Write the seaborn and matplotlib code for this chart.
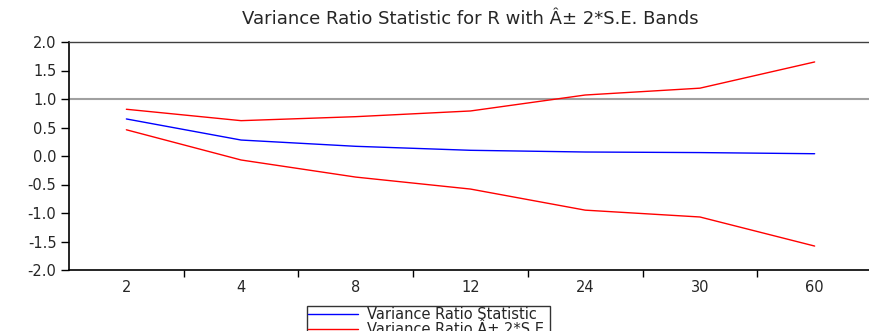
import matplotlib
matplotlib.use("Agg")
import matplotlib.pyplot as plt
import seaborn as sns
import pandas as pd
from matplotlib.lines import Line2D

periods = ["2", "4", "8", "12", "24", "30", "60"]
vr_stat = [0.65, 0.28, 0.17, 0.10, 0.07, 0.06, 0.04]
vr_upper = [0.82, 0.62, 0.69, 0.79, 1.07, 1.19, 1.65]
vr_lower = [0.46, -0.07, -0.37, -0.58, -0.95, -1.07, -1.58]
y_ticks = [-2.0, -1.5, -1.0, -0.5, 0.0, 0.5, 1.0, 1.5, 2.0]

title = "Variance Ratio Statistic for R with \u00c2\u00b1 2*S.E. Bands"
legend_labels = ["Variance Ratio Statistic", "Variance Ratio \u00c2\u00b1 2*S.E."]

sns.set_style("white")
plt.rcParams["font.family"] = ["DejaVu Sans"]

df = pd.DataFrame({"period": periods, "stat": vr_stat,
                   "upper": vr_upper, "lower": vr_lower})

fig = plt.figure(figsize=(8.7, 3.31), dpi=100)
ax = fig.add_axes([69/870, 61/331, 803/870, 228/331])

ax.axhline(1.0, color="#a0a0a0", lw=1.5, zorder=1)
sns.lineplot(data=df, x="period", y="stat", color="#0000ff", lw=1, ax=ax, sort=False)
sns.lineplot(data=df, x="period", y="upper", color="#ff0000", lw=1, ax=ax, sort=False)
sns.lineplot(data=df, x="period", y="lower", color="#ff0000", lw=1, ax=ax, sort=False)

ax.set_xlim(-0.5, len(periods) - 0.5)
ax.set_ylim(-2.0, 2.0)
ax.set_yticks(y_ticks)
ax.set_yticklabels([f"{v:.1f}" for v in y_ticks])
ax.set_xticks(range(len(periods)))
ax.set_xticklabels(periods)
ax.set_xticks([i + 0.5 for i in range(len(periods) - 1)], minor=True)
ax.tick_params(axis="x", which="major", length=0, pad=7, labelsize=10.5)
ax.tick_params(axis="x", which="minor", length=5, width=1, direction="out", color="black", bottom=True)
ax.tick_params(axis="y", which="major", length=6, width=1, direction="out", color="black", left=True, labelsize=10.5, pad=3)
ax.set_xlabel("")
ax.set_ylabel("")

for s in ["left", "bottom"]:
    ax.spines[s].set_color("black")
    ax.spines[s].set_linewidth(1.2)
ax.spines["top"].set_color("#404040")
ax.spines["top"].set_linewidth(1.0)
ax.spines["right"].set_color("#404040")

fig.text(470/870, 1 - 19/331, title, ha="center", va="center", fontsize=13)

handles = [Line2D([], [], color="#0000ff", lw=1), Line2D([], [], color="#ff0000", lw=1)]
leg = fig.legend(handles, legend_labels, loc="upper left",
                 bbox_to_anchor=(307/870, 1 - 306/331), fontsize=10.5,
                 frameon=True, fancybox=False, handlelength=3.4,
                 borderpad=0.1, labelspacing=0.0, handletextpad=0.6,
                 borderaxespad=0)
leg.get_frame().set_edgecolor("black")
leg.get_frame().set_linewidth(1.0)

fig.savefig("out.png", dpi=100)
